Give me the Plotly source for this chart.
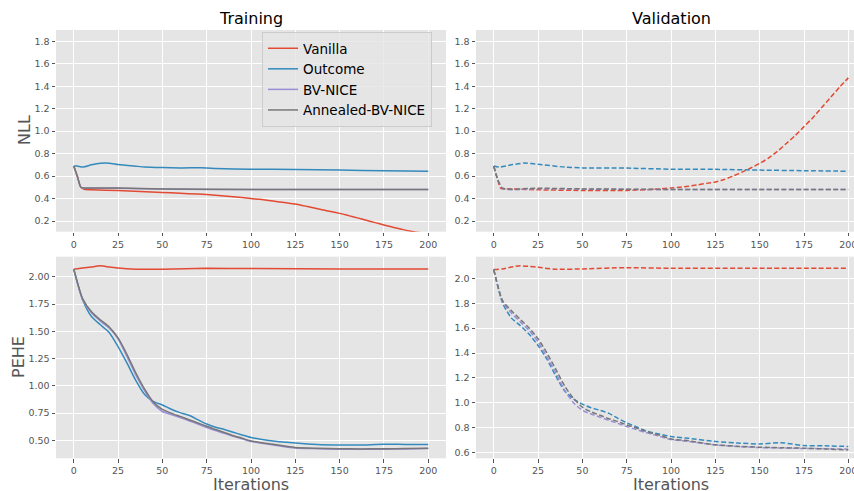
import plotly.graph_objects as go

W, H = 854, 491

# ---------------- data ----------------
series_names = ["Vanilla", "Outcome", "BV-NICE", "Annealed-BV-NICE"]
series_colors = ["#E24A33", "#348ABD", "#988ED5", "#777777"]

# NLL - training
nll_tr_vanilla_x = [0, 2, 4, 6, 10, 25, 50, 60, 70, 80, 90, 100, 105, 110, 115, 120, 125, 130, 135, 140,
                    145, 150, 155, 160, 165, 170, 175, 180, 185, 190, 195, 200]
nll_tr_vanilla_y = [0.69, 0.60, 0.50, 0.482, 0.478, 0.472, 0.454, 0.447, 0.44, 0.43, 0.417, 0.40, 0.393, 0.383,
                    0.372, 0.362, 0.351, 0.335, 0.318, 0.30, 0.285, 0.268, 0.248, 0.228, 0.207, 0.186, 0.164,
                    0.145, 0.127, 0.11, 0.097, 0.085]
nll_tr_outcome_x = [0, 2, 5, 10, 15, 20, 25, 35, 40, 50, 60, 75, 80, 100, 125, 150, 175, 200]
nll_tr_outcome_y = [0.69, 0.69, 0.68, 0.70, 0.714, 0.715, 0.703, 0.688, 0.681, 0.676, 0.673, 0.673, 0.668, 0.661, 0.659, 0.653, 0.648, 0.643]
nll_tr_bv_x = [0, 2, 4, 6, 25, 50, 100, 150, 200]
nll_tr_bv_y = [0.69, 0.60, 0.50, 0.492, 0.492, 0.484, 0.48, 0.48, 0.48]
nll_tr_ann_x = [0, 2, 4, 6, 25, 50, 100, 150, 200]
nll_tr_ann_y = [0.69, 0.60, 0.50, 0.494, 0.494, 0.485, 0.481, 0.481, 0.481]

# NLL - validation
nll_va_vanilla_x = [0, 2, 4, 10, 25, 50, 75, 90, 100, 105, 110, 115, 120, 125, 130, 135, 140, 145, 150, 155,
                    160, 165, 170, 175, 180, 185, 190, 195, 200]
nll_va_vanilla_y = [0.69, 0.58, 0.49, 0.485, 0.478, 0.472, 0.472, 0.482, 0.494, 0.50, 0.51, 0.522, 0.535, 0.547,
                    0.57, 0.60, 0.635, 0.672, 0.713, 0.76, 0.82, 0.89, 0.96, 1.04, 1.12, 1.21, 1.30, 1.39, 1.474]
nll_va_outcome_x = [0, 3, 10, 17, 25, 40, 50, 75, 100, 125, 150, 175, 200]
nll_va_outcome_y = [0.69, 0.68, 0.70, 0.716, 0.705, 0.68, 0.673, 0.671, 0.661, 0.66, 0.653, 0.648, 0.643]
nll_va_bv_x = [0, 2, 5, 25, 50, 100, 150, 200]
nll_va_bv_y = [0.69, 0.58, 0.488, 0.488, 0.484, 0.48, 0.48, 0.48]
nll_va_ann_x = [0, 2, 5, 25, 50, 100, 150, 200]
nll_va_ann_y = [0.69, 0.58, 0.492, 0.492, 0.486, 0.481, 0.481, 0.481]

# PEHE - training
pehe_x = [0, 5, 10, 15, 20, 25, 30, 35, 40, 45, 50, 55, 60, 65, 70, 75, 80, 85, 90, 95,
          100, 110, 125, 137, 150, 162, 175, 187, 200]
pehe_tr_vanilla_x = [0, 5, 10, 15, 20, 25, 35, 50, 75, 100, 150, 200]
pehe_tr_vanilla_y = [2.07, 2.08, 2.09, 2.10, 2.09, 2.08, 2.07, 2.07, 2.078, 2.075, 2.072, 2.072]
pehe_tr_outcome_y = [2.07, 1.79, 1.636, 1.56, 1.49, 1.36, 1.21, 1.05, 0.92, 0.855, 0.825, 0.786, 0.755, 0.73, 0.69, 0.65,
                     0.62, 0.60, 0.575, 0.55, 0.527, 0.50, 0.476, 0.462, 0.457, 0.458, 0.465, 0.463, 0.462]
pehe_tr_bv_y = [2.07, 1.79, 1.67, 1.595, 1.53, 1.43, 1.27, 1.10, 0.955, 0.835, 0.765, 0.738, 0.71, 0.68, 0.65, 0.618,
                0.59, 0.565, 0.537, 0.515, 0.49, 0.465, 0.43, 0.424, 0.42, 0.418, 0.42, 0.422, 0.426]
pehe_tr_ann_y = [2.07, 1.80, 1.68, 1.605, 1.54, 1.44, 1.29, 1.12, 0.97, 0.85, 0.785, 0.75, 0.72, 0.69, 0.66, 0.63,
                 0.60, 0.573, 0.543, 0.52, 0.495, 0.47, 0.435, 0.428, 0.424, 0.422, 0.424, 0.425, 0.428]

# PEHE - validation
pehe_va_vanilla_x = [0, 5, 10, 15, 20, 25, 35, 50, 75, 100, 150, 200]
pehe_va_vanilla_y = [2.07, 2.075, 2.09, 2.10, 2.095, 2.088, 2.072, 2.075, 2.085, 2.08, 2.08, 2.08]
pehe_va_outcome_y = [2.07, 1.80, 1.68, 1.62, 1.55, 1.46, 1.35, 1.216, 1.095, 1.03, 0.99, 0.96, 0.94, 0.915, 0.876, 0.84,
                     0.81, 0.78, 0.76, 0.745, 0.73, 0.715, 0.69, 0.678, 0.67, 0.68, 0.657, 0.655, 0.65]
pehe_va_bv_y = [2.07, 1.81, 1.72, 1.65, 1.58, 1.49, 1.37, 1.24, 1.10, 1.00, 0.94, 0.91, 0.885, 0.86, 0.835, 0.81,
                0.788, 0.765, 0.745, 0.725, 0.705, 0.69, 0.662, 0.65, 0.641, 0.638, 0.634, 0.632, 0.628]
pehe_va_ann_y = [2.07, 1.82, 1.74, 1.67, 1.60, 1.515, 1.40, 1.27, 1.135, 1.035, 0.965, 0.927, 0.90, 0.873, 0.85, 0.823,
                 0.80, 0.775, 0.753, 0.734, 0.71, 0.695, 0.663, 0.652, 0.644, 0.64, 0.636, 0.63, 0.622]

x_ticks = [0, 25, 50, 75, 100, 125, 150, 175, 200]

# ---------------- figure ----------------
fig = go.Figure()

def px_x(p):
    return p / W

def px_y(p):
    return 1 - p / H

left_dom = [px_x(56), px_x(446)]
right_dom = [px_x(476), 1.0]
top_dom = [px_y(231.7), px_y(30)]
bot_dom = [px_y(458.3), px_y(256.7)]

panels = {
    "nll_tr": ("x", "y"),
    "nll_va": ("x2", "y2"),
    "pehe_tr": ("x3", "y3"),
    "pehe_va": ("x4", "y4"),
}

def add(xs, ys, ci, panel, dashed, show):
    xa, ya = panels[panel]
    fig.add_trace(go.Scatter(
        x=xs, y=ys, mode="lines", name=series_names[ci],
        line=dict(color=series_colors[ci], width=1.5, shape="spline", smoothing=0.6,
                  dash="5px,2.4px" if dashed else "solid"),
        showlegend=show, legendgroup=series_names[ci],
        xaxis=xa, yaxis=ya, hoverinfo="skip"))

add(nll_tr_vanilla_x, nll_tr_vanilla_y, 0, "nll_tr", False, True)
add(nll_tr_outcome_x, nll_tr_outcome_y, 1, "nll_tr", False, True)
add(nll_tr_bv_x, nll_tr_bv_y, 2, "nll_tr", False, True)
add(nll_tr_ann_x, nll_tr_ann_y, 3, "nll_tr", False, True)
add(nll_va_vanilla_x, nll_va_vanilla_y, 0, "nll_va", True, False)
add(nll_va_outcome_x, nll_va_outcome_y, 1, "nll_va", True, False)
add(nll_va_bv_x, nll_va_bv_y, 2, "nll_va", True, False)
add(nll_va_ann_x, nll_va_ann_y, 3, "nll_va", True, False)
add(pehe_tr_vanilla_x, pehe_tr_vanilla_y, 0, "pehe_tr", False, False)
add(pehe_x, pehe_tr_outcome_y, 1, "pehe_tr", False, False)
add(pehe_x, pehe_tr_bv_y, 2, "pehe_tr", False, False)
add(pehe_x, pehe_tr_ann_y, 3, "pehe_tr", False, False)
add(pehe_va_vanilla_x, pehe_va_vanilla_y, 0, "pehe_va", True, False)
add(pehe_x, pehe_va_outcome_y, 1, "pehe_va", True, False)
add(pehe_x, pehe_va_bv_y, 2, "pehe_va", True, False)
add(pehe_x, pehe_va_ann_y, 3, "pehe_va", True, False)

tickfont = dict(family="DejaVu Sans", size=9.5, color="#555555")
common = dict(showgrid=True, gridcolor="white", gridwidth=1, zeroline=False,
              ticks="outside", ticklen=3.5, tickwidth=1, tickcolor="#555555",
              tickfont=tickfont, showline=False, automargin=False,
              ticklabeloverflow="allow")

def xax(dom, anchor, rng):
    return dict(domain=dom, anchor=anchor, range=rng, tickvals=x_ticks, **common)

def yax(dom, anchor, rng, dtick, fmt):
    return dict(domain=dom, anchor=anchor, range=rng, tick0=0, dtick=dtick, tickformat=fmt, **common)

fig.update_layout(
    width=W, height=H,
    margin=dict(l=0, r=0, t=0, b=0),
    paper_bgcolor="white", plot_bgcolor="#E5E5E5",
    font=dict(family="DejaVu Sans", color="#555555"),
    xaxis=xax(left_dom, "y", [-10, 210]),
    yaxis=yax(top_dom, "x", [0.105, 1.9], 0.2, ".1f"),
    xaxis2=xax(right_dom, "y2", [-10, 203.2]),
    yaxis2=yax(top_dom, "x2", [0.105, 1.9], 0.2, ".1f"),
    xaxis3=xax(left_dom, "y3", [-10, 210]),
    yaxis3=yax(bot_dom, "x3", [0.336, 2.184], 0.25, ".2f"),
    xaxis4=xax(right_dom, "y4", [-10, 203.2]),
    yaxis4=yax(bot_dom, "x4", [0.555, 2.173], 0.2, ".1f"),
    legend=dict(x=px_x(262), y=px_y(32), xanchor="left", yanchor="top",
                bgcolor="rgba(229,229,229,0.8)", bordercolor="#CCCCCC", borderwidth=1,
                font=dict(family="DejaVu Sans", size=13.5, color="black"),
                itemwidth=30, tracegroupgap=0),
    showlegend=True,
)

def ann(text, x, y, size, color="#555555", angle=0):
    fig.add_annotation(text=text, x=px_x(x), y=px_y(y), xref="paper", yref="paper",
                       showarrow=False, xanchor="center", yanchor="middle", textangle=angle,
                       font=dict(family="DejaVu Sans", size=size, color=color))

ann("Training", 251, 18, 16, color="black")
ann("Validation", 671, 18, 16, color="black")
ann("NLL", 24, 130, 16, angle=-90)
ann("PEHE", 18, 357, 16, angle=-90)
ann("Iterations", 251, 484, 16)
ann("Iterations", 671, 484, 16)

fig.write_html("out.html")
